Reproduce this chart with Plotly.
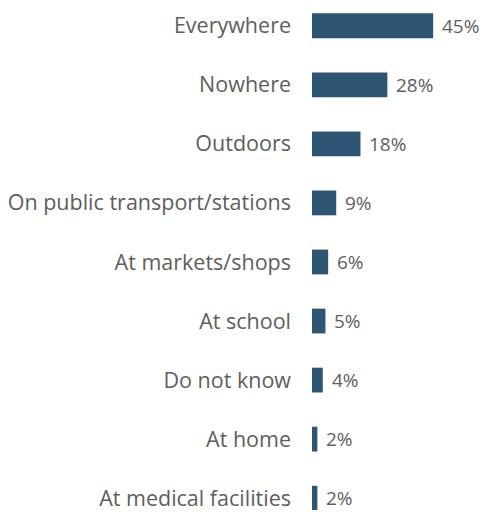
import plotly.graph_objects as go

# Where respondents report the issue occurring (share of respondents, %)
categories = [
    "Everywhere",
    "Nowhere",
    "Outdoors",
    "On public transport/stations",
    "At markets/shops",
    "At school",
    "Do not know",
    "At home",
    "At medical facilities",
]
shares = [45, 28, 18, 9, 6, 5, 4, 2, 2]

BAR_COLOR = "#2f5574"
TEXT_COLOR = "#5e5e5e"
FONT = "Open Sans, Noto Sans, sans-serif"

fig = go.Figure(
    go.Bar(
        x=shares,
        y=list(range(len(categories))),
        orientation="h",
        marker=dict(color=BAR_COLOR, line=dict(width=0)),
        width=0.42,
        hoverinfo="skip",
    )
)

# Value labels just past the end of each bar
for i, v in enumerate(shares):
    fig.add_annotation(
        x=v, y=i, text=f"{v}%", showarrow=False,
        xanchor="left", yanchor="middle", xshift=7,
        font=dict(family=FONT, size=19, color=TEXT_COLOR),
    )

fig.update_layout(
    width=480,
    height=512,
    margin=dict(l=312, r=0, t=0, b=0),
    paper_bgcolor="white",
    plot_bgcolor="white",
    showlegend=False,
    font=dict(family=FONT, size=21, color=TEXT_COLOR),
    xaxis=dict(range=[0, 62.4], visible=False, fixedrange=True),
    yaxis=dict(
        range=[8.2, -0.436],
        tickmode="array",
        tickvals=list(range(len(categories))),
        ticktext=categories,
        showgrid=False,
        zeroline=False,
        showline=False,
        ticks="",
        ticklabelstandoff=20,
        ticklabeloverflow="allow",
        tickfont=dict(family=FONT, size=21.5, color=TEXT_COLOR),
    ),
)

fig.write_html("out.html")
